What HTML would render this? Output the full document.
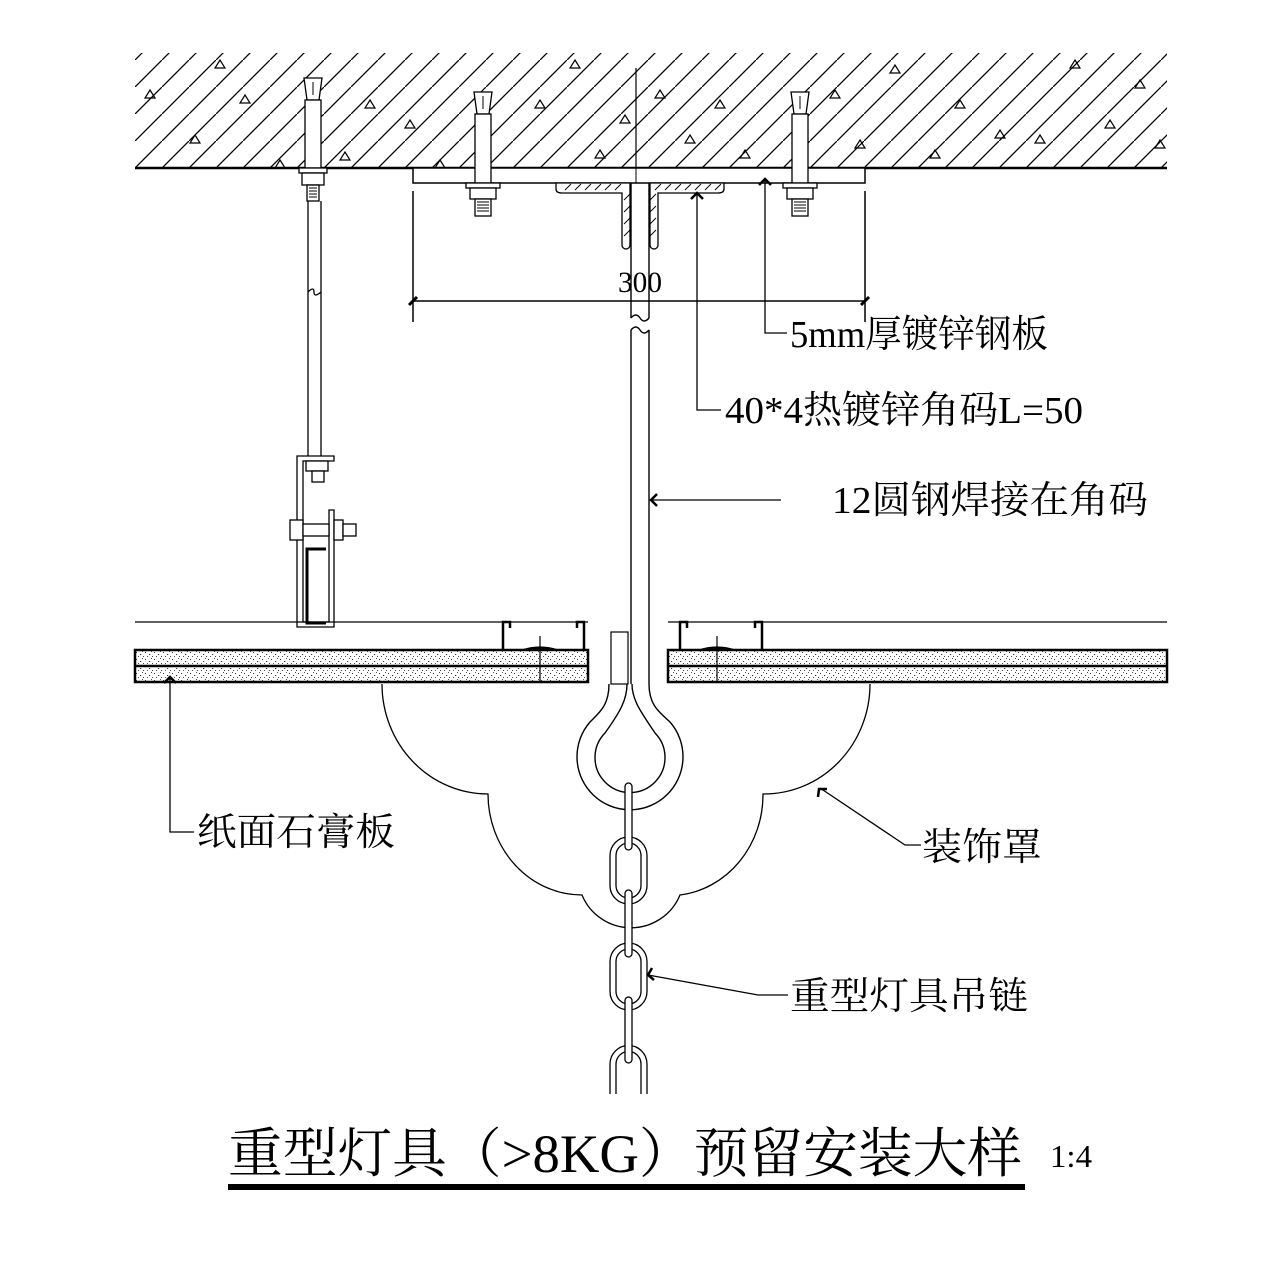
<!DOCTYPE html>
<html><head><meta charset="utf-8"><style>
html,body{margin:0;padding:0;background:#fff;}
svg{display:block;}
text{font-family:"Liberation Serif","Noto Serif CJK SC",serif;fill:#000;}
</style></head><body>
<svg width="1280" height="1280" viewBox="0 0 1280 1280" xmlns="http://www.w3.org/2000/svg">
<defs>
<pattern id="hatch" patternUnits="userSpaceOnUse" width="27" height="27" patternTransform="translate(135,168)">
<line x1="0" y1="27" x2="27" y2="0" stroke="#000" stroke-width="1.3"/>
</pattern>
<pattern id="dots" patternUnits="userSpaceOnUse" width="9" height="7">
<rect x="1" y="1" width="1" height="1" fill="#333"/><rect x="5" y="3" width="1.2" height="1" fill="#333"/>
<rect x="3" y="5" width="1" height="1" fill="#555"/><rect x="7" y="0" width="1" height="1" fill="#555"/>
<rect x="8" y="5" width="1" height="1" fill="#444"/>
</pattern>
<clipPath id="slab"><rect x="135" y="53" width="1032" height="115"/></clipPath>
</defs>
<rect width="1280" height="1280" fill="#fff"/>

<!-- slab -->
<rect x="135" y="53" width="1032" height="115" fill="url(#hatch)"/>
<g clip-path="url(#slab)" fill="none" stroke="#000" stroke-width="1.2">
<path d="M150 90l5 8h-10z M195 135l5 8h-10z M245 95l5 8h-10z M280 160l5 8h-10z M345 152l5 8h-10z M370 100l5 8h-10z M410 120l5 8h-10z M440 160l5 8h-10z M540 100l5 8h-10z M575 60l5 8h-10z M600 150l5 8h-10z M625 115l5 8h-10z M660 90l5 8h-10z M690 135l5 8h-10z M720 100l5 8h-10z M745 150l5 8h-10z M835 90l5 8h-10z M860 140l5 8h-10z M895 65l5 8h-10z M935 150l5 8h-10z M960 100l5 8h-10z M1000 130l5 8h-10z M1040 135l5 8h-10z M1075 60l5 8h-10z M1110 120l5 8h-10z M1140 80l5 8h-10z M1160 140l5 8h-10z M220 60l5 8h-10z"/>
</g>
<line x1="135" y1="168" x2="1167" y2="168" stroke="#000" stroke-width="2.5"/>
<line x1="636" y1="68" x2="636" y2="168" stroke="#000" stroke-width="1.2"/>

<!-- steel plate -->
<rect x="413" y="168" width="452" height="15" fill="#fff" stroke="#000" stroke-width="1.5"/>
<line x1="636" y1="168" x2="636" y2="183" stroke="#000" stroke-width="1"/>

<!-- angle bracket -->
<g fill="#fff" stroke="#000" stroke-width="1.3">
<path d="M556 183h74v62a4 4 0 0 1-8 0v-52h-60q-6 0-6-4z"/>
<path d="M724 183h-74v62a4 4 0 0 0 8 0v-52h60q6 0 6-4z"/>
</g>
<g stroke="#000" stroke-width="0.9">
<path d="M565 190l6-6M575 190l6-6M585 190l6-6M595 190l6-6M605 190l6-6M615 190l6-6M624 200l6-6M624 212l6-6M624 224l6-6M624 236l6-6M655 190l6-6M665 190l6-6M675 190l6-6M685 190l6-6M695 190l6-6M705 190l6-6M715 190l6-6M650 200l6-6M650 212l6-6M650 224l6-6M650 236l6-6"/>
</g>

<!-- central rod -->
<g fill="none" stroke="#000" stroke-width="1.4">
<line x1="631" y1="183" x2="631" y2="318"/><line x1="649" y1="183" x2="649" y2="318"/>
<path d="M631 318q5-6 9 0t9 0 M631 330q5-6 9 0t9 0"/>
<line x1="631" y1="330" x2="631" y2="684"/><line x1="649" y1="330" x2="649" y2="684"/>
<!-- eye -->
<path d="M609 684 C609 705 600 712 590 722 A53 53 0 1 0 670 722 C659 712 649 705 649 684" fill="#fff"/>
<path d="M627 684 C627 700 620 712 605 733 A35 35 0 1 0 655 733 C641 712 632 700 632 684" fill="#fff"/>
</g>
<rect x="611" y="632" width="17" height="52" fill="none" stroke="#000" stroke-width="1.2"/>

<!-- dimension -->
<g stroke="#000" stroke-width="1.5">
<line x1="413" y1="191" x2="413" y2="322"/><line x1="865" y1="191" x2="865" y2="322"/>
<line x1="413" y1="301" x2="865" y2="301"/>
<line x1="409" y1="305" x2="417" y2="297" stroke-width="3"/>
<line x1="861" y1="305" x2="869" y2="297" stroke-width="3"/>
</g>
<text x="640" y="292" font-size="30" text-anchor="middle" textLength="44" lengthAdjust="spacingAndGlyphs" font-family="Liberation Sans" fill="#333">300</text>

<!-- anchors -->
<g fill="#fff" stroke="#000" stroke-width="1.3">
<path d="M304 78h18l-3 22h-12z"/><rect x="305" y="100" width="16" height="68"/>
<rect x="299" y="168" width="28" height="5"/><rect x="302" y="173" width="22" height="12"/>
<rect x="307" y="185" width="12" height="16"/>
<path d="M474 92h18l-3 22h-12z"/><rect x="475" y="114" width="16" height="69"/>
<rect x="466" y="183" width="34" height="5"/><rect x="470" y="188" width="26" height="11"/>
<rect x="475" y="199" width="16" height="17"/>
<path d="M791 92h18l-3 22h-12z"/><rect x="792" y="114" width="16" height="69"/>
<rect x="783" y="183" width="34" height="5"/><rect x="787" y="188" width="26" height="11"/>
<rect x="792" y="199" width="16" height="17"/>
</g>
<g stroke="#000" stroke-width="1">
<path d="M309 188h8M309 191h8M309 194h8M309 197h8 M477 202h12M477 205h12M477 208h12M477 211h12 M794 202h12M794 205h12M794 208h12M794 211h12"/>
<line x1="313" y1="82" x2="313" y2="95"/><line x1="483" y1="96" x2="483" y2="109"/><line x1="800" y1="96" x2="800" y2="109"/>
</g>

<!-- left hanger rod -->
<g fill="none" stroke="#000" stroke-width="1.3">
<line x1="308" y1="201" x2="308" y2="456"/><line x1="321" y1="201" x2="321" y2="456"/>
<path d="M308 292q6-6 6 0t7 0"/>
</g>
<!-- bracket -->
<g fill="#fff" stroke="#000" stroke-width="1.3">
<path d="M297 456h37v5h-31v161h26v-112h5v117h-37z"/>
<rect x="306" y="461" width="22" height="10"/>
<rect x="312" y="471" width="12" height="11"/>
<rect x="290" y="520" width="13" height="20"/>
<rect x="303" y="524" width="26" height="12"/>
<rect x="334" y="520" width="9" height="20"/>
<rect x="343" y="524" width="13" height="12"/>
</g>
<path d="M326 549h-19v74h19" fill="none" stroke="#000" stroke-width="3"/>

<!-- ceiling lines -->
<line x1="135" y1="622" x2="588" y2="622" stroke="#000" stroke-width="1.3"/>
<line x1="668" y1="622" x2="1167" y2="622" stroke="#000" stroke-width="1.3"/>
<g fill="none" stroke="#000" stroke-width="2.5">
<path d="M510 628v-6h-7v28M577 628v-6h7v28"/>
<path d="M687 628v-6h-7v28M755 628v-6h7v28"/>
</g>
<g stroke="#000" stroke-width="2.5">
<rect x="135" y="650" width="453" height="32" fill="url(#dots)"/>
<line x1="135" y1="666" x2="588" y2="666"/>
<rect x="668" y="650" width="499" height="32" fill="url(#dots)"/>
<line x1="668" y1="666" x2="1167" y2="666"/>
</g>
<g stroke="#000" stroke-width="1.2" fill="#000">
<line x1="540" y1="636" x2="540" y2="682"/><path d="M522 650q18-6 36 0z"/>
<line x1="717" y1="636" x2="717" y2="682"/><path d="M699 650q18-6 36 0z"/>
</g>

<!-- decorative cover -->
<path d="M382 684 A106 110 0 0 0 488 794 A94 101 0 0 0 582 895 A53 53 0 0 0 680 895 A94 101 0 0 0 763 794 A106 110 0 0 0 870 684" fill="none" stroke="#000" stroke-width="1.3"/>

<!-- chain -->
<g fill="#fff" stroke="#000" stroke-width="1.3">
<rect x="610" y="837" width="37" height="67" rx="18.5"/>
<rect x="616" y="843" width="25" height="55" rx="12.5"/>
<rect x="610" y="943" width="37" height="67" rx="18.5"/>
<rect x="616" y="949" width="25" height="55" rx="12.5"/>
<path d="M610 1094v-30a18.5 18.5 0 0 1 37 0v30 M616 1094v-30a12.5 12.5 0 0 1 25 0v30"/>
<rect x="625" y="783" width="7" height="67" rx="3.5"/>
<rect x="625" y="890" width="7" height="67" rx="3.5"/>
<rect x="625" y="997" width="7" height="66" rx="3.5"/>
</g>

<!-- leaders -->
<g fill="none" stroke="#000" stroke-width="1.3">
<path d="M765 180v153h22"/>
<path d="M697 194v216h24"/>
<path d="M651 500h130"/>
<path d="M170 678v154h24"/>
<path d="M820 788l85 57h16"/>
<path d="M648 975l110 20h30"/>
</g>
<g fill="none" stroke="#000" stroke-width="2.5">
<path d="M759 185l6-6 6 6"/>
<path d="M691 199l6-6 6 6"/>
<path d="M657 494l-6 6 6 6"/>
<path d="M164 683l6-6 6 6"/>
<path d="M818 797l1-8 8 0"/>
<path d="M652 968l-4 7 6 5"/>
</g>

<!-- labels -->
<text x="790" y="347" font-size="38" textLength="258" lengthAdjust="spacingAndGlyphs">5mm厚镀锌钢板</text>
<text x="725" y="423" font-size="38" textLength="358" lengthAdjust="spacingAndGlyphs">40*4热镀锌角码L=50</text>
<text x="832" y="513" font-size="38" textLength="316" lengthAdjust="spacingAndGlyphs">12圆钢焊接在角码</text>
<text x="197" y="845" font-size="38" textLength="198" lengthAdjust="spacingAndGlyphs">纸面石膏板</text>
<text x="922" y="860" font-size="38" textLength="120" lengthAdjust="spacingAndGlyphs">装饰罩</text>
<text x="790" y="1009" font-size="38" textLength="238" lengthAdjust="spacingAndGlyphs">重型灯具吊链</text>

<!-- title -->
<text x="228" y="1172" font-size="54" textLength="794" lengthAdjust="spacingAndGlyphs">重型灯具（&gt;8KG）预留安装大样</text>
<text x="1050" y="1167" font-size="32" textLength="42" lengthAdjust="spacingAndGlyphs" font-family="Liberation Sans" fill="#555">1:4</text>
<rect x="228" y="1184" width="797" height="6" fill="#000"/>
</svg>
</body></html>
